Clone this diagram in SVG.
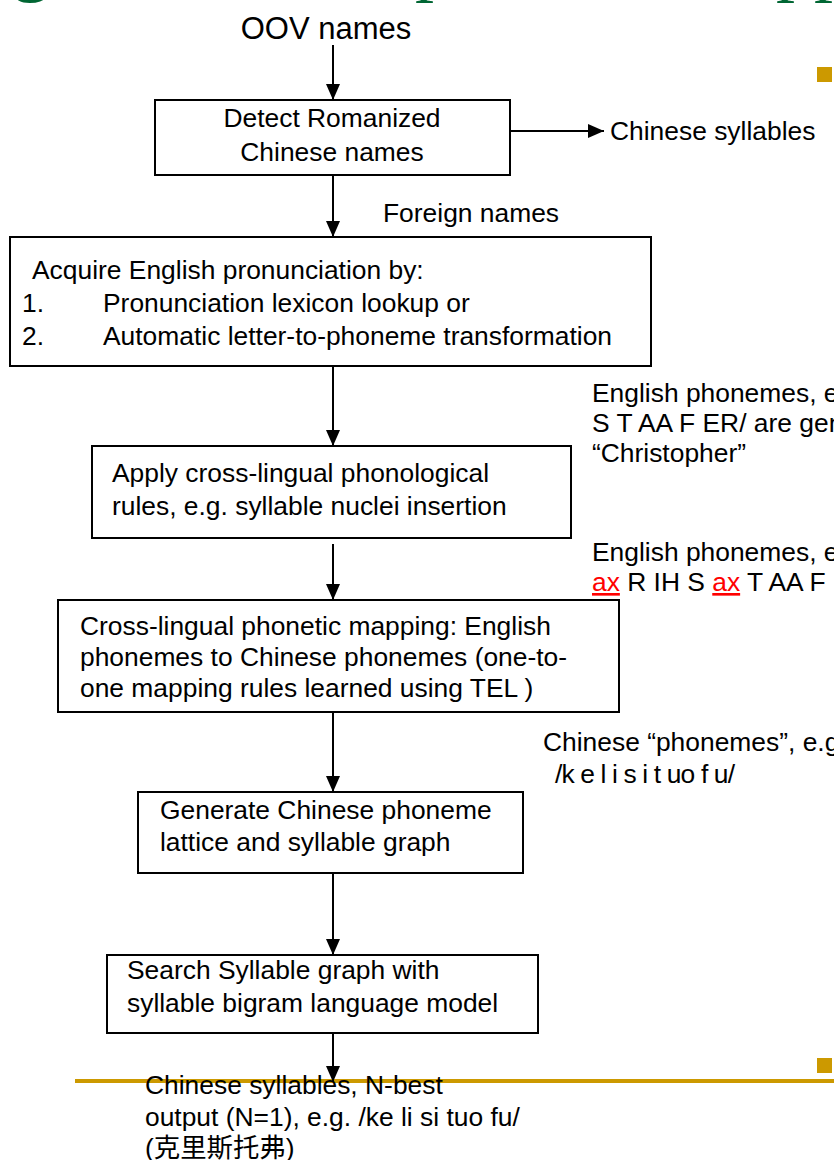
<svg xmlns="http://www.w3.org/2000/svg" width="834" height="1160" viewBox="0 0 834 1160">
<style>
.t{font-family:"Liberation Sans",Arial,sans-serif;font-size:26.4px;fill:#000}
.box{fill:#fff;stroke:#000;stroke-width:2}
.c{stroke:#000;stroke-width:2;fill:none}
.red{fill:#ff0000;text-decoration:underline}
.title{font-family:"Liberation Serif","Times New Roman",serif;font-size:76px;fill:#006633}
.bul{fill:#cc9900}
</style>
<defs>
<marker id="ah" markerUnits="userSpaceOnUse" markerWidth="16" markerHeight="14" refX="16" refY="7" orient="auto">
<path d="M0,0 L16,7 L0,14 z" fill="#000"/>
</marker>
</defs>
<rect width="834" height="1160" fill="#fff"/>
<g id="title">
<text class="title" x="12" y="-13">g</text>
<text class="title" x="415" y="-13">p</text>
<text class="title" x="776" y="-13">pp</text>
</g>
<g id="bullets">
<rect class="bul" x="817" y="67" width="15" height="15"/>
<rect class="bul" x="817" y="1058" width="15" height="15"/>
<rect class="bul" x="75" y="1079" width="759" height="4"/>
</g>
<g id="connectors">
<line class="c" x1="333" y1="45" x2="333" y2="100" marker-end="url(#ah)"/>
<line class="c" x1="510" y1="131" x2="604" y2="131" marker-end="url(#ah)"/>
<line class="c" x1="333" y1="175" x2="333" y2="237" marker-end="url(#ah)"/>
<line class="c" x1="333" y1="366" x2="333" y2="446" marker-end="url(#ah)"/>
<line class="c" x1="333" y1="544" x2="333" y2="600" marker-end="url(#ah)"/>
<line class="c" x1="333" y1="712" x2="333" y2="792" marker-end="url(#ah)"/>
<line class="c" x1="333" y1="873" x2="333" y2="955" marker-end="url(#ah)"/>
<line class="c" x1="333" y1="1033" x2="333" y2="1082" marker-end="url(#ah)"/>
</g>
<g id="oov">
<text class="t" x="326" y="39" text-anchor="middle" style="font-size:31px">OOV names</text>
</g>
<g id="detect">
<rect class="box" x="155" y="100" width="355" height="75"/>
<text class="t" x="332" y="127" text-anchor="middle">Detect Romanized</text>
<text class="t" x="332" y="161" text-anchor="middle">Chinese names</text>
</g>
<g id="chinese-syllables">
<text class="t" x="610" y="140">Chinese syllables</text>
</g>
<g id="foreign">
<text class="t" x="383" y="222">Foreign names</text>
</g>
<g id="acquire">
<rect class="box" x="10" y="237" width="641" height="129"/>
<text class="t" x="32" y="279">Acquire English pronunciation by:</text>
<text class="t" x="22" y="312">1.</text>
<text class="t" x="103" y="312">Pronunciation lexicon lookup or</text>
<text class="t" x="22" y="345">2.</text>
<text class="t" x="103" y="345">Automatic letter-to-phoneme transformation</text>
</g>
<g id="note1">
<text class="t" x="592" y="402">English phonemes, e</text>
<text class="t" x="592" y="432">S T AA F ER/ are gen</text>
<text class="t" x="592" y="462">“Christopher”</text>
</g>
<g id="apply">
<rect class="box" x="92" y="446" width="479" height="92"/>
<text class="t" x="112" y="482">Apply cross-lingual phonological</text>
<text class="t" x="112" y="515">rules, e.g. syllable nuclei insertion</text>
</g>
<g id="note2">
<text class="t" x="592" y="561">English phonemes, e</text>
<text class="t" x="592" y="591"><tspan class="red">ax</tspan> R IH S <tspan class="red">ax</tspan> T AA F</text>
</g>
<g id="mapping">
<rect class="box" x="58" y="600" width="561" height="112"/>
<text class="t" x="80" y="635">Cross-lingual phonetic mapping: English</text>
<text class="t" x="80" y="666">phonemes to Chinese phonemes (one-to-</text>
<text class="t" x="80" y="697">one mapping rules learned using TEL )</text>
</g>
<g id="note3">
<text class="t" x="543" y="751">Chinese “phonemes”, e.g</text>
<text class="t" x="555" y="783" textLength="180" lengthAdjust="spacing">/k e l i s i t uo f u/</text>
</g>
<g id="generate">
<rect class="box" x="138" y="792" width="385" height="81"/>
<text class="t" x="160" y="819">Generate Chinese phoneme</text>
<text class="t" x="160" y="851">lattice and syllable graph</text>
</g>
<g id="search">
<rect class="box" x="107" y="955" width="431" height="78"/>
<text class="t" x="127" y="979">Search Syllable graph with</text>
<text class="t" x="127" y="1012">syllable bigram language model</text>
</g>
<g id="output">
<text class="t" x="145" y="1094">Chinese syllables, N-best</text>
<text class="t" x="145" y="1126">output (N=1), e.g. /ke li si tuo fu/</text>
<text class="t" x="145" y="1157" style="font-family:'Liberation Sans','Noto Sans CJK SC',sans-serif">(克里斯托弗)</text>
</g>
</svg>
